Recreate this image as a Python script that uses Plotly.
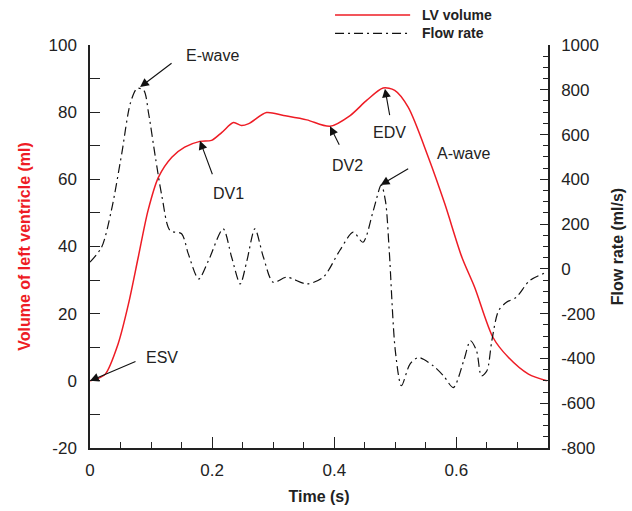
import plotly.graph_objects as go

# ---- data ----
time_lv = [0, 0.012, 0.025, 0.046, 0.063, 0.079, 0.095, 0.112, 0.134, 0.155, 0.180, 0.199,
           0.216, 0.235, 0.248, 0.260, 0.289, 0.317, 0.355, 0.393, 0.426, 0.453, 0.480, 0.499,
           0.521, 0.554, 0.581, 0.609, 0.630, 0.660, 0.685, 0.718, 0.748]
lv_volume = [0, 0.6, 2, 11, 22.9, 36.8, 50.7, 60.6, 66.6, 69.6, 71.3, 71.6,
             74, 76.9, 76.0, 76.6, 79.9, 79, 77.7, 75.8, 79, 83.5, 87.2, 86.5,
             81.5, 66.6, 52.7, 36.8, 27.8, 12.9, 7, 2, 0]

time_flow = [0, 0.019, 0.035, 0.052, 0.066, 0.077, 0.088, 0.096, 0.107, 0.118, 0.131, 0.150,
             0.161, 0.178, 0.194, 0.218, 0.232, 0.246, 0.257, 0.270, 0.284, 0.300, 0.322,
             0.355, 0.382, 0.409, 0.431, 0.447, 0.464, 0.477, 0.484, 0.490, 0.500, 0.510,
             0.524, 0.538, 0.562, 0.579, 0.595, 0.612, 0.623, 0.633, 0.641, 0.650, 0.658,
             0.669, 0.682, 0.698, 0.720, 0.748]
flow_rate = [30, 97, 261, 515, 739, 806, 798, 694, 500, 321, 172, 157,
             67, -45, 37, 179, 52, -67, 37, 179, 52, -60, -37,
             -67, -37, 82, 164, 119, 261, 375, 300, 82, -366, -522,
             -425, -396, -433, -478, -530, -410, -321, -366, -478, -455, -321,
             -187, -149, -127, -52, -15]

x_ticks = [0, 0.2, 0.4, 0.6]
y_ticks = [-20, 0, 20, 40, 60, 80, 100]
y2_ticks = [-800, -600, -400, -200, 0, 200, 400, 600, 800, 1000]

FONT = "Liberation Sans, Arial, sans-serif"
AX = "#222222"
TXT = "#222222"

fig = go.Figure()
fig.add_trace(go.Scatter(x=time_lv, y=lv_volume, mode="lines", name="LV volume",
                         line=dict(color="#ee1c25", width=1.5, shape="spline", smoothing=0.8),
                         showlegend=False))
fig.add_trace(go.Scatter(x=time_flow, y=flow_rate, mode="lines", name="Flow rate", yaxis="y2",
                         line=dict(color="#111111", width=1.2, dash="9px,4px,2px,4px",
                                   shape="spline", smoothing=0.8),
                         showlegend=False))

# manual legend
fig.add_shape(type="line", xref="paper", yref="paper", x0=0.535, x1=0.699, y0=1.0745, y1=1.0745,
              line=dict(color="#ee1c25", width=1.5))
fig.add_shape(type="line", xref="paper", yref="paper", x0=0.535, x1=0.699, y0=1.029, y1=1.029,
              line=dict(color="#111111", width=1.2, dash="9px,4px,2px,4px"))
fig.add_annotation(xref="paper", yref="paper", x=0.72, y=1.0745, xanchor="left", yanchor="middle",
                   text="<b>LV volume</b>", showarrow=False, font=dict(size=14, color=TXT, family=FONT))
fig.add_annotation(xref="paper", yref="paper", x=0.72, y=1.029, xanchor="left", yanchor="middle",
                   text="<b>Flow rate</b>", showarrow=False, font=dict(size=14, color=TXT, family=FONT))

# arrows: (x, y, yref, ax, ay)
arrows = [
    (0.082, 812, "y2", 33, -25),
    (0.180, 71.5, "y", 13, 35),
    (0.393, 75.8, "y", 10, 20),
    (0.483, 87.0, "y", 5, 28),
    (0.476, 375, "y2", 29, -17),
    (0.0, 0.0, "y", 47, -20),
]
for x, y, yr, ax, ay in arrows:
    fig.add_annotation(x=x, y=y, xref="x", yref=yr, ax=ax, ay=ay, text="",
                       showarrow=True, arrowhead=2, arrowsize=1.6, arrowwidth=1.1,
                       arrowcolor="#111111", standoff=0, startstandoff=0)

labels = [
    ("E-wave", 0.1998, 96.9),
    ("DV1", 0.226, 55.8),
    ("DV2", 0.421, 64.1),
    ("EDV", 0.491, 74.0),
    ("A-wave", 0.611, 67.7),
    ("ESV", 0.118, 6.9),
]
for t, x, y in labels:
    fig.add_annotation(x=x, y=y, xref="x", yref="y", text=t, showarrow=False,
                       font=dict(size=16, color=TXT, family=FONT))

fig.update_layout(
    width=632, height=511,
    margin=dict(l=90, r=84, t=45, b=63, autoexpand=False),
    paper_bgcolor="white", plot_bgcolor="white",
    font=dict(family=FONT, size=16, color=TXT),
    xaxis=dict(range=[0, 0.75], tickvals=x_ticks, ticktext=[str(v) for v in x_ticks],
               ticks="inside", ticklen=11, tickwidth=1.2, tickcolor=AX, automargin=False,
               ticklabelstandoff=6,
               showline=True, linecolor=AX, linewidth=1.5, showgrid=False, zeroline=False,
               minor=dict(dtick=0.05, tick0=0, ticks="inside", ticklen=6, tickcolor=AX, tickwidth=1.2),
               tickfont=dict(size=17, color=TXT),
               title=dict(text="<b>Time (s)</b>", font=dict(size=16, color=TXT), standoff=12)),
    yaxis=dict(range=[-20, 100], tickvals=y_ticks, ticktext=[str(v) for v in y_ticks],
               ticks="inside", ticklen=10, tickwidth=1.2, automargin=False,
               ticklabelstandoff=8,
               tickcolor=AX, showline=True, linecolor=AX, linewidth=1.5, showgrid=False,
               zeroline=False,
               minor=dict(dtick=10, tick0=0, ticks="inside", ticklen=10, tickcolor=AX, tickwidth=1.2),
               tickfont=dict(size=17, color=TXT),
               title=dict(text="<b>Volume of left ventricle (ml)</b>",
                          font=dict(size=16, color="#ee1c25"), standoff=14)),
    yaxis2=dict(range=[-800, 1000], tickvals=y2_ticks, ticktext=[str(v) for v in y2_ticks],
                overlaying="y", side="right", automargin=False,
                ticklabelstandoff=8,
                anchor="x", ticks="inside", ticklen=8, tickwidth=1.2, tickcolor=AX,
                showline=True, linecolor=AX, linewidth=1.5, showgrid=False, zeroline=False,
                minor=dict(dtick=50, tick0=0, ticks="inside", ticklen=5, tickcolor=AX, tickwidth=1.2),
                tickfont=dict(size=17, color=TXT),
                title=dict(text="<b>Flow rate (ml/s)</b>", font=dict(size=16, color=TXT),
                           standoff=14)),
)

fig.write_html("out.html", config={"displayModeBar": False},
               post_script="document.body.style.margin='0';")
